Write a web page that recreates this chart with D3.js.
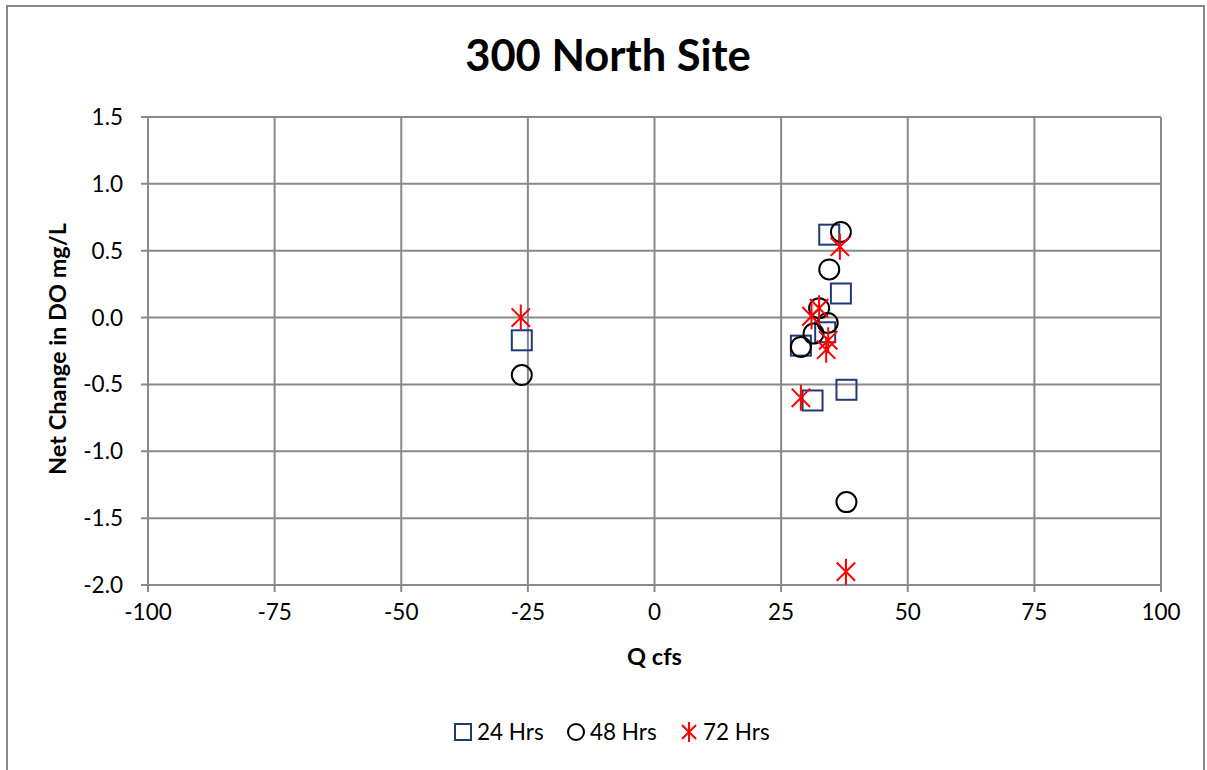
<!DOCTYPE html>
<html>
<head>
<meta charset="utf-8">
<script src="https://cdn.jsdelivr.net/npm/d3@7"></script>
<style>
  body { margin: 0; background: #fff; }
  svg { font-family: Lato, "Open Sans", sans-serif; }
</style>
</head>
<body>
<script>
// Data
const seriesNames = ['24 Hrs', '48 Hrs', '72 Hrs'];
const hrs24 = [
  [-26.2, -0.17], [34.5, 0.62], [36.8, 0.18], [33.7, -0.11],
  [28.9, -0.21], [31.2, -0.62], [37.9, -0.54]
];
const hrs48 = [
  [-26.2, -0.43], [36.8, 0.64], [34.5, 0.36], [32.5, 0.07],
  [34.2, -0.04], [31.4, -0.12], [28.9, -0.22], [37.9, -1.38]
];
const hrs72 = [
  [-26.4, 0.00], [36.6, 0.53], [32.5, 0.07], [31.0, 0.01],
  [34.3, -0.17], [33.9, -0.24], [28.9, -0.60], [37.8, -1.90]
];
const xTicks = [-100, -75, -50, -25, 0, 25, 50, 75, 100];
const yTicks = [-2.0, -1.5, -1.0, -0.5, 0.0, 0.5, 1.0, 1.5];

const W = 1207, H = 770;
const margin = { top: 117, right: 46, bottom: 185, left: 148 };
const width = W - margin.left - margin.right;
const height = H - margin.top - margin.bottom;

const svg = d3.select('body').append('svg')
  .attr('width', W).attr('height', H);

// Outer frame
svg.append('rect')
  .attr('x', 7).attr('y', 6).attr('width', W - 10).attr('height', H - 4)
  .attr('fill', '#fff').attr('stroke', '#888').attr('stroke-width', 2);

svg.append('text')
  .attr('x', 608).attr('y', 71)
  .attr('text-anchor', 'middle')
  .style('font-size', '43.5px').style('font-weight', 'bold')
  .text('300 North Site');

const g = svg.append('g').attr('transform', `translate(${margin.left},${margin.top})`);

const x = d3.scaleLinear().domain([-100, 100]).range([0, width]);
const y = d3.scaleLinear().domain([-2, 1.5]).range([height, 0]);

// Gridlines
g.selectAll('.vgrid').data(xTicks).enter().append('line')
  .attr('x1', d => x(d)).attr('x2', d => x(d))
  .attr('y1', 0).attr('y2', height)
  .attr('stroke', '#898989').attr('stroke-width', 2);
g.selectAll('.hgrid').data(yTicks).enter().append('line')
  .attr('x1', -7).attr('x2', width)
  .attr('y1', d => y(d)).attr('y2', d => y(d))
  .attr('stroke', '#898989').attr('stroke-width', 2);
// tick marks below x axis
g.selectAll('.xtick').data(xTicks).enter().append('line')
  .attr('x1', d => x(d)).attr('x2', d => x(d))
  .attr('y1', height).attr('y2', height + 7)
  .attr('stroke', '#898989').attr('stroke-width', 2);

// Tick labels (plain hyphen for negatives, as in the original)
const fmtX = d => String(d);
const fmtY = d => d.toFixed(1);
g.selectAll('.xlab').data(xTicks).enter().append('text')
  .attr('x', d => x(d)).attr('y', height + 35)
  .attr('text-anchor', 'middle').style('font-size', '22.5px')
  .text(fmtX);
g.selectAll('.ylab').data(yTicks).enter().append('text')
  .attr('x', -25).attr('y', d => y(d) + 8)
  .attr('text-anchor', 'end').style('font-size', '22.5px')
  .text(fmtY);

// Axis titles
g.append('text')
  .attr('x', width / 2).attr('y', height + 80)
  .attr('text-anchor', 'middle')
  .style('font-size', '23.5px').style('font-weight', 'bold')
  .text('Q cfs');
g.append('text')
  .attr('transform', 'rotate(-90)')
  .attr('x', -height / 2 + 2).attr('y', -82)
  .attr('text-anchor', 'middle')
  .style('font-size', '23.5px').style('font-weight', 'bold')
  .text('Net Change in DO mg/L');

// Marker helpers
const navy = '#1f3a78';
const starPath = s => {
  const r = s / 2, d = r * Math.SQRT1_2;
  return `M0,${-r}L0,${r}M${-d},${-d}L${d},${d}M${-d},${d}L${d},${-d}`;
};

const pts = g.append('g');
pts.selectAll('.sq').data(hrs24).enter().append('rect')
  .attr('x', d => x(d[0]) - 10).attr('y', d => y(d[1]) - 10)
  .attr('width', 20).attr('height', 20)
  .attr('fill', 'none').attr('stroke', navy).attr('stroke-width', 2);
pts.selectAll('.ci').data(hrs48).enter().append('circle')
  .attr('cx', d => x(d[0])).attr('cy', d => y(d[1])).attr('r', 10)
  .attr('fill', 'none').attr('stroke', '#000').attr('stroke-width', 2);
pts.selectAll('.st').data(hrs72).enter().append('path')
  .attr('transform', d => `translate(${x(d[0])},${y(d[1])})`)
  .attr('d', starPath(26))
  .attr('fill', 'none').attr('stroke', '#ff0000').attr('stroke-width', 2);

// Legend
const legendX = [455, 568, 681];
const leg = svg.append('g');
seriesNames.forEach((name, i) => {
  const lx = legendX[i], ly = 732;
  if (i === 0) {
    leg.append('rect').attr('x', lx).attr('y', ly - 8).attr('width', 16).attr('height', 16)
      .attr('fill', 'none').attr('stroke', navy).attr('stroke-width', 2);
  } else if (i === 1) {
    leg.append('circle').attr('cx', lx + 8).attr('cy', ly).attr('r', 8)
      .attr('fill', 'none').attr('stroke', '#000').attr('stroke-width', 2);
  } else {
    leg.append('path').attr('transform', `translate(${lx + 8},${ly})`)
      .attr('d', starPath(20))
      .attr('fill', 'none').attr('stroke', '#ff0000').attr('stroke-width', 2);
  }
  leg.append('text').attr('x', lx + 22).attr('y', ly + 8)
    .style('font-size', '22.5px').text(name);
});
</script>
</body>
</html>
